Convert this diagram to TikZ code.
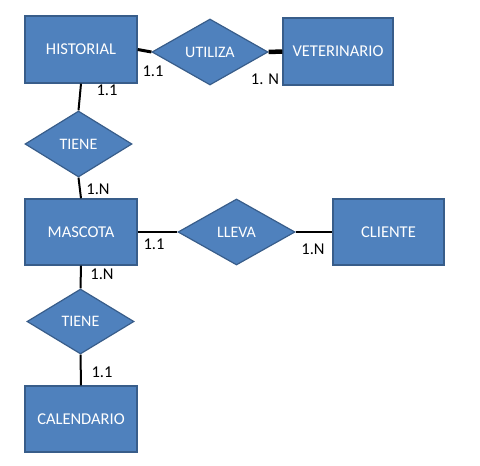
\documentclass[tikz,border=0pt]{standalone}
\usepackage{fontspec}
\setmainfont{Carlito}
\usetikzlibrary{shapes.geometric}
\definecolor{erfill}{HTML}{4F81BD}
\definecolor{erline}{HTML}{385D8A}
\tikzset{
  entity/.style={rectangle, fill=erfill, draw=erline, line width=1.4pt, text=white, font=\fontsize{16.5}{18}\selectfont, inner sep=0pt},
  relation/.style={diamond, fill=erfill, draw=erline, line width=1.2pt, text=white, font=\fontsize{16}{18}\selectfont, inner sep=0pt, aspect=1.7},
  link/.style={line width=2pt, black},
  card/.style={font=\fontsize{16.5}{18}\selectfont, text=black, inner sep=0pt},
}
\begin{document}
\begin{tikzpicture}[x=1pt,y=-1pt]
\useasboundingbox (0,0) rectangle (480,466);
% cardinality labels (behind shapes)
\node[card] (c1) at (153,71) {1.1};
\node[card] (c2) at (265,79) {1. N};
\node[card] (c3) at (107,90) {1.1};
\node[card] (c4) at (98,189) {1.N};
\node[card] (c5) at (154,244) {1.1};
\node[card] (c6) at (313,249) {1.N};
\node[card] (c7) at (102,274) {1.N};
\node[card] (c8) at (102,372) {1.1};
% shapes
\node[entity, minimum width=112pt, minimum height=67pt] (hist) at (81,49.5) {HISTORIAL};
\node[relation, minimum width=116pt, minimum height=66pt] (util) at (210,52) {UTILIZA};
\node[entity, minimum width=110pt, minimum height=67pt] (vet) at (338,51.5) {VETERINARIO};
\node[relation, minimum width=107pt, minimum height=66pt] (tiene1) at (78.5,144) {TIENE};
\node[entity, minimum width=112pt, minimum height=66pt] (masc) at (81,232) {MASCOTA};
\node[relation, minimum width=117pt, minimum height=66pt] (lleva) at (236.5,232) {LLEVA};
\node[entity, minimum width=111pt, minimum height=66pt] (cli) at (388.5,232) {CLIENTE};
\node[relation, minimum width=107pt, minimum height=65pt] (tiene2) at (80.5,321.5) {TIENE};
\node[entity, minimum width=112pt, minimum height=66pt] (cal) at (81,419) {CALENDARIO};
% connectors
\draw[link, line width=3pt] (hist.east) -- (util.west);
\draw[link, line width=4.5pt] (util.east) -- (vet.west);
\draw[link] (hist.south) -- (tiene1.north);
\draw[link] (tiene1.south) -- (masc.north);
\draw[link] (masc.east) -- (lleva.west);
\draw[link] (lleva.east) -- (cli.west);
\draw[link] (masc.south) -- (tiene2.north);
\draw[link] (tiene2.south) -- (cal.north);
\end{tikzpicture}
\end{document}
